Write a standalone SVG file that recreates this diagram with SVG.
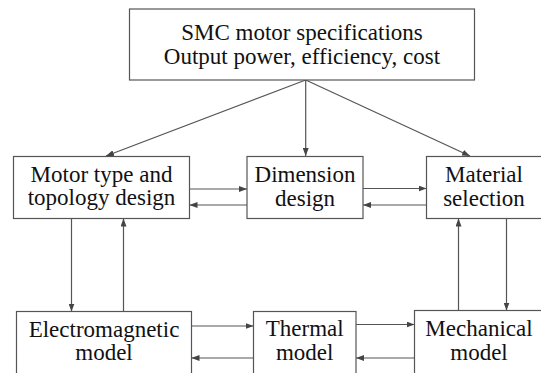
<svg xmlns="http://www.w3.org/2000/svg" width="541" height="373" viewBox="0 0 541 373">
<style>
.box{fill:#fff;stroke:#555;stroke-width:1.2}
text{font-family:'Liberation Serif',Tinos,'Times New Roman',Times,'DejaVu Serif',serif;font-size:23px;fill:#111;text-anchor:middle}
.c{stroke:#555;stroke-width:1.2;fill:none;marker-end:url(#ah)}
</style>
<defs>
<marker id="ah" viewBox="0 0 8 6" refX="8" refY="3" markerWidth="8" markerHeight="6" markerUnits="userSpaceOnUse" orient="auto">
<path d="M0,0 L8,3 L0,6 Z" fill="#444"/>
</marker>
</defs>
<rect width="541" height="373" fill="#fff"/>
<g id="connectors">
<path class="c" d="M305.7,80 L106,156"/>
<path class="c" d="M305.7,80 L305.7,156"/>
<path class="c" d="M305.7,80 L470,156"/>
<path class="c" d="M189.5,189 L247,189"/>
<path class="c" d="M247,205 L189.5,205"/>
<path class="c" d="M363,188.5 L426.5,188.5"/>
<path class="c" d="M426.5,205 L363,205"/>
<path class="c" d="M71.5,218.5 L71.5,311.5"/>
<path class="c" d="M123.5,311.5 L123.5,218.5"/>
<path class="c" d="M458.5,310.5 L458.5,218.5"/>
<path class="c" d="M506.5,218.5 L506.5,310.5"/>
<path class="c" d="M191.5,326 L253.5,326"/>
<path class="c" d="M253.5,358 L191.5,358"/>
<path class="c" d="M356,324.5 L414.5,324.5"/>
<path class="c" d="M414.5,358 L356,358"/>
</g>
<g id="spec">
<rect class="box" x="129.5" y="9" width="345" height="71"/>
<text x="302" y="39.5" font-family="Liberation Serif, serif">SMC motor specifications</text>
<text x="302" y="63.5" font-family="Liberation Serif, serif">Output power, efficiency, cost</text>
</g>
<g id="topology">
<rect class="box" x="13.5" y="156.5" width="176" height="62"/>
<text x="101.5" y="182">Motor type and</text>
<text x="101.5" y="205">topology design</text>
</g>
<g id="dimension">
<rect class="box" x="247" y="156.5" width="116" height="62"/>
<text x="305" y="182">Dimension</text>
<text x="305" y="206">design</text>
</g>
<g id="material">
<rect class="box" x="426.5" y="156.5" width="120" height="62"/>
<text x="484" y="182">Material</text>
<text x="484" y="206">selection</text>
</g>
<g id="electromagnetic">
<rect class="box" x="16.5" y="311.5" width="175" height="70"/>
<text x="104" y="337">Electromagnetic</text>
<text x="104" y="360">model</text>
</g>
<g id="thermal">
<rect class="box" x="253.5" y="311.5" width="102.5" height="70"/>
<text x="304.7" y="336">Thermal</text>
<text x="304.7" y="360">model</text>
</g>
<g id="mechanical">
<rect class="box" x="414.5" y="310.5" width="130" height="70"/>
<text x="479" y="336">Mechanical</text>
<text x="479" y="360">model</text>
</g>
</svg>
